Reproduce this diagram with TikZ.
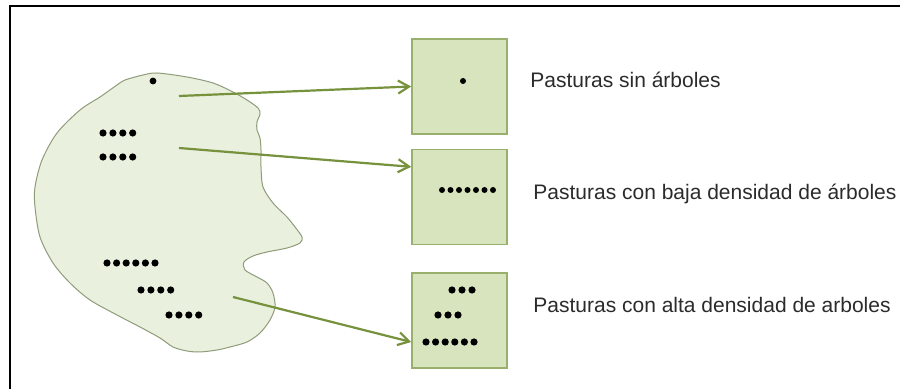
\documentclass[tikz,border=0pt]{standalone}
\usepackage{fontspec}
\setmainfont{Liberation Sans}
\usetikzlibrary{arrows.meta}
\definecolor{arrowgreen}{HTML}{76923C}
\definecolor{boxfill}{HTML}{D7E4BD}
\definecolor{boxline}{HTML}{98AF6E}
\definecolor{blobfill}{HTML}{EAF0DE}
\definecolor{blobline}{HTML}{8E9C7A}
\definecolor{txt}{HTML}{2B2B2B}
\newcommand{\dotrow}[5]{% x0, y, n, spacing, radius
  \foreach \k in {1,...,#3}{\fill ({#1+(\k-1)*#4},#2) circle[radius=#5];}}
\begin{document}
\begin{tikzpicture}[x=0.5pt,y=-0.5pt,
  sqbox/.style={draw=boxline, fill=boxfill, line width=0.8pt, minimum size=47.5pt, inner sep=0pt},
  lbl/.style={anchor=base west, text=txt, font=\fontsize{10.5}{12}\selectfont, inner sep=0pt},
  conn/.style={draw=arrowgreen, line width=1.1pt, -{Straight Barb[length=5.5pt,width=6.5pt]}},
  ]
\useasboundingbox (0,0) rectangle (900,389);
% frame
\draw[line width=1pt] (10,389) -- (10,6) -- (900,6);
% blob
\filldraw[fill=blobfill, draw=blobline, line width=0.5pt]
  plot[smooth cycle, tension=0.5] coordinates {
  (117,85) (125,80) (143,75) (157,73) (187,77) (213,83) (233,92) (247,100)
  (258,108) (260,114) (257,122) (257,130) (260,138) (261,150) (261,167)
  (263,187) (273,203) (287,217) (295,227) (302,237) (300,243) (287,248)
  (267,252) (253,256) (244,262) (245,270) (257,277) (267,283) (273,293)
  (275,307) (270,320) (260,333) (247,342) (230,347) (217,350) (200,352)
  (187,351) (173,347) (160,338) (140,327) (117,315) (90,300) (70,283)
  (53,263) (40,237) (35,207) (35,187) (42,160) (57,133) (80,110) (100,97)};
% blob dots
\fill (153,81) circle[radius=1.7pt];
\dotrow{103}{133}{4}{9.9}{1.8pt}
\dotrow{103}{157}{4}{9.9}{1.8pt}
\dotrow{107}{263}{6}{9.6}{1.8pt}
\dotrow{141}{290}{4}{9.9}{1.8pt}
\dotrow{169}{315}{4}{9.9}{1.8pt}
% boxes
\node[sqbox] (b1) at (459.5,86.5) {};
\node[sqbox] (b2) at (459.5,197) {};
\node[sqbox] (b3) at (459.5,320.5) {};
% box dots
\fill (463,81) circle[radius=1.5pt];
\dotrow{442}{190}{7}{8.5}{1.5pt}
\dotrow{452}{290}{3}{10}{1.8pt}
\dotrow{438}{315}{3}{10}{1.8pt}
\dotrow{426}{342}{6}{9.6}{1.8pt}
% labels
\node[lbl] (t1) at (530,88) {Pasturas sin árboles};
\node[lbl] (t2) at (533,200) {Pasturas con baja densidad de árboles};
\node[lbl] (t3) at (533,313) {Pasturas con alta densidad de arboles};
% connectors
\coordinate (a1) at (179,96);
\coordinate (a2) at (179,148);
\coordinate (a3) at (233,297);
\draw[conn] (a1) -- (b1.west);
\draw[conn] (a2) -- (b2.148);
\draw[conn] (a3) -- (b3.204);
\end{tikzpicture}
\end{document}
